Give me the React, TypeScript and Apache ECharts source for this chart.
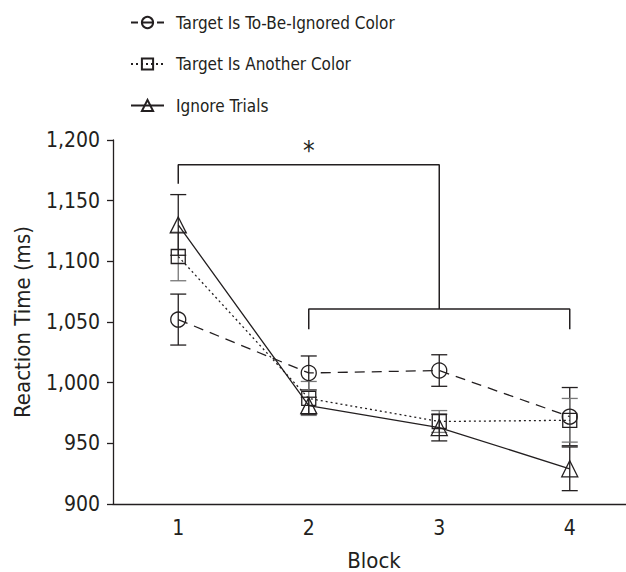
import React, { useEffect, useRef } from "react";
import * as echarts from "echarts";

const blocks = ["1", "2", "3", "4"];
const yTicks = [900, 950, 1000, 1050, 1100, 1150, 1200];

const ignoredColorMean = [1052, 1008, 1010, 972];
const ignoredColorErr = [21, 14, 13, 24];
const anotherColorMean = [1104, 987, 968, 969];
const anotherColorErr = [20, 14, 9, 18];
const ignoreTrialsMean = [1130, 981, 963, 929];
const ignoreTrialsErr = [25, 7, 11, 18];

const seriesNames = [
  "Target Is To-Be-Ignored Color",
  "Target Is Another Color",
  "Ignore Trials",
];

// significance brackets: [blockIndex, value]
const bracketTop = [
  [0, 1164],
  [0, 1179.5],
  [2, 1179.5],
  [2, 1060.7],
];
const bracketLow = [
  [1, 1044],
  [1, 1060.7],
  [3, 1060.7],
  [3, 1044],
];
const starPoint = [1, 1191];

const FONT = "'DejaVu Sans Condensed', 'Liberation Sans Narrow', sans-serif";
const INK = "#231f20";

function errData(mean: number[], err: number[]) {
  return mean.map((m, i) => [i, m - err[i], m + err[i]]);
}

function errSeries(mean: number[], err: number[], color: string) {
  return {
    type: "custom",
    silent: true,
    z: 3,
    data: errData(mean, err),
    encode: { x: 0, y: [1, 2] },
    renderItem: (params: any, api: any) => {
      const x = api.value(0);
      const lo = api.coord([x, api.value(1)]);
      const hi = api.coord([x, api.value(2)]);
      const w = 8;
      const st = { stroke: color, lineWidth: 1.3 };
      return {
        type: "group",
        children: [
          { type: "line", shape: { x1: lo[0], y1: lo[1], x2: hi[0], y2: hi[1] }, style: st },
          { type: "line", shape: { x1: lo[0] - w, y1: lo[1], x2: lo[0] + w, y2: lo[1] }, style: st },
          { type: "line", shape: { x1: hi[0] - w, y1: hi[1], x2: hi[0] + w, y2: hi[1] }, style: st },
        ],
      };
    },
  };
}

function lineSeries(name: string, data: number[], symbol: string, size: number, lineType: any) {
  return {
    name,
    type: "line",
    data,
    z: 4,
    symbol,
    symbolSize: size,
    showSymbol: true,
    itemStyle: { color: "rgba(0,0,0,0)", borderColor: INK, borderWidth: 1.3 },
    lineStyle: { color: INK, width: 1.3, type: lineType },
  };
}

export default function App() {
  const ref = useRef<HTMLDivElement>(null);
  useEffect(() => {
    if (!ref.current) return;
    const chart = echarts.init(ref.current, null, { renderer: "svg" });
    chart.setOption({
      animation: false,
      backgroundColor: "#ffffff",
      textStyle: { fontFamily: FONT, color: INK },
      legend: {
        orient: "vertical",
        left: 125,
        top: 9,
        itemWidth: 33,
        itemHeight: 14,
        itemGap: 24.5,
        data: [
          { name: seriesNames[0], lineStyle: { type: [7, 3, 13, 3, 7, 100] } },
          { name: seriesNames[1] },
          { name: seriesNames[2] },
        ],
        selectedMode: false,
        textStyle: { fontFamily: FONT, fontSize: 17, color: INK, padding: [0, 0, 0, 7] },
      },
      grid: {
        left: 113,
        top: 140,
        right: -9,
        bottom: 68,
        containLabel: false,
        outerBoundsMode: "none",
      },
      xAxis: {
        type: "category",
        data: blocks,
        boundaryGap: true,
        name: "Block",
        nameLocation: "middle",
        nameGap: 45,
        nameTextStyle: { fontFamily: FONT, fontSize: 22, color: INK },
        axisLine: { lineStyle: { color: INK, width: 1.3 } },
        axisTick: { alignWithLabel: true, length: 6, lineStyle: { color: INK, width: 1.3 } },
        axisLabel: { fontFamily: FONT, fontSize: 21, color: INK, margin: 13 },
        splitLine: { show: false },
      },
      yAxis: {
        type: "value",
        min: yTicks[0],
        max: yTicks[yTicks.length - 1],
        interval: 50,
        name: "Reaction Time (ms)",
        nameLocation: "middle",
        nameGap: 80,
        nameTextStyle: { fontFamily: FONT, fontSize: 22, color: INK },
        axisLine: { show: true, lineStyle: { color: INK, width: 1.3 } },
        axisTick: { show: true, length: 6, lineStyle: { color: INK, width: 1.3 } },
        axisLabel: {
          fontFamily: FONT,
          fontSize: 21,
          color: INK,
          margin: 13,
          formatter: (v: number) => v.toLocaleString("en-US"),
        },
        splitLine: { show: false },
      },
      series: [
        errSeries(ignoredColorMean, ignoredColorErr, INK),
        errSeries(anotherColorMean, anotherColorErr, "#777777"),
        errSeries(ignoreTrialsMean, ignoreTrialsErr, INK),
        lineSeries(seriesNames[0], ignoredColorMean, "circle", 15, [10, 7]),
        lineSeries(seriesNames[1], anotherColorMean, "rect", 14, [2, 3]),
        lineSeries(seriesNames[2], ignoreTrialsMean, "triangle", 16, "solid"),
        {
          type: "line",
          data: bracketTop,
          symbol: "none",
          silent: true,
          lineStyle: { color: INK, width: 1.5 },
          z: 2,
        },
        {
          type: "line",
          data: bracketLow,
          symbol: "none",
          silent: true,
          lineStyle: { color: INK, width: 1.5 },
          z: 2,
        },
        {
          type: "custom",
          silent: true,
          data: [starPoint],
          encode: { x: 0, y: 1 },
          renderItem: (params: any, api: any) => {
            const p = api.coord([api.value(0), api.value(1)]);
            return {
              type: "text",
              x: p[0],
              y: p[1],
              style: {
                text: "*",
                fontSize: 26,
                fontFamily: FONT,
                fill: INK,
                textAlign: "center",
                textVerticalAlign: "middle",
              },
            };
          },
        },
      ],
    });
    return () => chart.dispose();
  }, []);
  return (
    <div
      ref={ref}
      style={{ position: "fixed", left: 0, top: 0, width: 626, height: 572 }}
    />
  );
}
